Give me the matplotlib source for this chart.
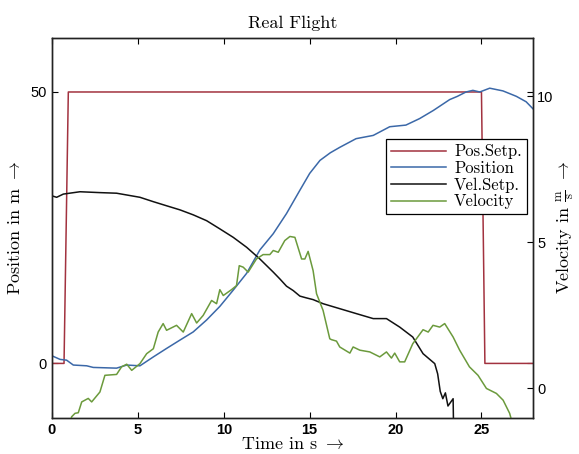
import matplotlib
matplotlib.use("Agg")
import matplotlib.pyplot as plt

plt.rcParams['mathtext.fontset'] = 'cm'
plt.rcParams['axes.unicode_minus'] = False

# position setpoint (left axis, m)
t_pos_set = [0, 0.7, 0.95, 25.0, 25.2, 28]
pos_set = [0, 0, 50, 50, 0, 0]

# measured position (left axis, m)
t_pos = [0, 0.47, 0.85, 1.24, 2.02, 2.4, 3.76, 4.35, 5.12, 5.9,
         6.67, 7.45, 8.22, 9.0, 9.77, 10.55, 11.33, 12.1, 12.88, 13.65,
         14.43, 15.0, 15.6, 16.2, 16.75, 17.7, 18.7, 19.66, 20.6, 21.4,
         22.2, 23.15, 23.6, 24.1, 24.5, 24.9, 25.48, 26.25, 27.03, 27.6,
         28]
pos = [1.4, 0.74, 0.6, -0.3, -0.44, -0.74, -0.87, -0.3, -0.44, 1.2,
       2.76, 4.3, 5.8, 8.0, 10.5, 13.5, 16.6, 20.9, 23.9, 27.6,
       31.9, 35.0, 37.4, 38.8, 39.8, 41.4, 42.0, 43.6, 43.9, 45.1,
       46.6, 48.6, 49.2, 50.0, 50.3, 50.0, 50.7, 50.2, 49.2, 48.2,
       46.9]

# velocity setpoint (right axis, m/s)
t_vel_set = [0, 0.27, 0.66, 1.63, 2.8, 3.76, 5.12, 5.9, 6.67, 7.45,
             8.22, 9.0, 9.77, 10.55, 11.33, 12.1, 12.88, 13.26, 13.65, 14.04,
             14.43, 14.8, 15.2, 15.78, 16.75, 17.72, 18.7, 19.47, 20.24, 21.0,
             21.6, 22.28, 22.45, 22.6, 22.75, 22.9, 23.05, 23.35, 23.38]
vel_set = [6.59, 6.54, 6.65, 6.73, 6.7, 6.68, 6.54, 6.39, 6.25, 6.11,
           5.94, 5.74, 5.46, 5.17, 4.83, 4.43, 3.98, 3.75, 3.5, 3.35,
           3.16, 3.1, 3.04, 2.9, 2.73, 2.56, 2.39, 2.39, 2.1, 1.76,
           1.19, 0.85, 0.5, -0.1, -0.35, -0.15, -0.6, -0.35, -1.5]

# measured velocity (right axis, m/s)
t_vel = [1.0, 1.14, 1.34, 1.53, 1.73, 2.11, 2.31, 2.79, 3.08, 3.76,
         4.05, 4.35, 4.64, 5.12, 5.51, 5.9, 6.18, 6.47, 6.67, 7.25,
         7.64, 8.13, 8.42, 8.8, 9.29, 9.58, 9.77, 9.97, 10.45, 10.74,
         10.9, 11.13, 11.42, 11.6, 11.9, 12.29, 12.68, 12.88, 13.17, 13.55,
         13.85, 14.14, 14.53, 14.72, 14.91, 15.2, 15.4, 15.78, 16.17, 16.27,
         16.56, 16.75, 17.34, 17.53, 17.92, 18.5, 19.08, 19.47, 19.76, 19.95,
         20.24, 20.53, 21.0, 21.6, 21.9, 22.18, 22.57, 22.86, 23.35, 23.73,
         24.3, 24.8, 25.29, 25.87, 26.26, 26.64, 26.9]
vel = [-1.4, -0.97, -0.85, -0.83, -0.46, -0.34, -0.46, -0.12, 0.45, 0.48,
       0.74, 0.83, 0.62, 0.85, 1.19, 1.36, 1.93, 2.22, 1.99, 2.16,
       1.93, 2.56, 2.24, 2.5, 3.01, 2.9, 3.38, 3.18, 3.38, 3.52,
       4.2, 4.15, 3.98, 4.15, 4.43, 4.58, 4.58, 4.72, 4.66, 5.06,
       5.2, 5.17, 4.43, 4.43, 4.69, 4.03, 3.24, 2.67, 1.7, 1.67,
       1.62, 1.42, 1.21, 1.42, 1.31, 1.25, 1.08, 1.25, 1.04, 1.21,
       0.91, 0.91, 1.53, 2.01, 1.93, 2.16, 2.1, 2.22, 1.76, 1.31,
       0.74, 0.45, 0.0, -0.17, -0.4, -0.85, -1.4]

x_ticks = [0, 5, 10, 15, 20, 25]
left_ticks = [0, 50]
right_ticks = [0, 5, 10]

RED = '#a2323f'
BLUE = '#3b68a8'
BLACK = '#111111'
GREEN = '#6b9a3c'
SERIF = 'cmr10'

fig = plt.figure(figsize=(5.79, 4.54), dpi=100)
ax1 = fig.add_axes([52 / 579, 1 - 417.7 / 454, 481 / 579, 380 / 454])
ax2 = ax1.twinx()

l1, = ax1.plot(t_pos_set, pos_set, color=RED, lw=1.1, label='Pos.Setp.')
l2, = ax1.plot(t_pos, pos, color=BLUE, lw=1.1, label='Position')
l3, = ax2.plot(t_vel_set, vel_set, color=BLACK, lw=1.1, label='Vel.Setp.')
l4, = ax2.plot(t_vel, vel, color=GREEN, lw=1.1, label='Velocity')

ax1.set_xlim(0, 28)
ax1.set_ylim(-10, 60)
ax2.set_ylim(-1, 12)
ax1.set_xticks(x_ticks)
ax1.set_yticks(left_ticks)
ax2.set_yticks(right_ticks)

for ax in (ax1, ax2):
    for sp in ax.spines.values():
        sp.set_linewidth(1.0)
        sp.set_color('#222222')
ax1.tick_params(direction='in', length=4, width=0.8, top=True, right=True,
                labelsize=10.5, pad=4)
ax2.tick_params(direction='in', length=4, width=0.8, labelsize=10.5, pad=3)
for lab in ax1.get_xticklabels():
    lab.set_fontweight('bold')
    lab.set_family('Liberation Sans')
for lab in ax1.get_yticklabels() + ax2.get_yticklabels():
    lab.set_family('Liberation Sans')

ax1.set_title('Real Flight', fontfamily=SERIF, fontsize=13, pad=7)
ax1.set_xlabel(r'Time in s $\rightarrow$', fontfamily=SERIF, fontsize=13,
               labelpad=-1)
ax1.set_ylabel(r'Position in m $\rightarrow$', fontfamily=SERIF, fontsize=13,
               labelpad=5)
ax2.set_ylabel(r'Velocity in $\frac{\mathrm{m}}{\mathrm{s}}$ $\rightarrow$',
               fontfamily=SERIF, fontsize=13, labelpad=0)

leg = ax2.legend(handles=[l1, l2, l3, l4], loc='upper right',
                 bbox_to_anchor=(0.987, 0.733), prop={'family': SERIF, 'size': 12},
                 fancybox=False, edgecolor='black', framealpha=1,
                 borderpad=0.3, labelspacing=0.08, handlelength=3.3,
                 handletextpad=0.45, borderaxespad=0)
leg.get_frame().set_linewidth(0.9)

fig.savefig('out.png', dpi=100)
